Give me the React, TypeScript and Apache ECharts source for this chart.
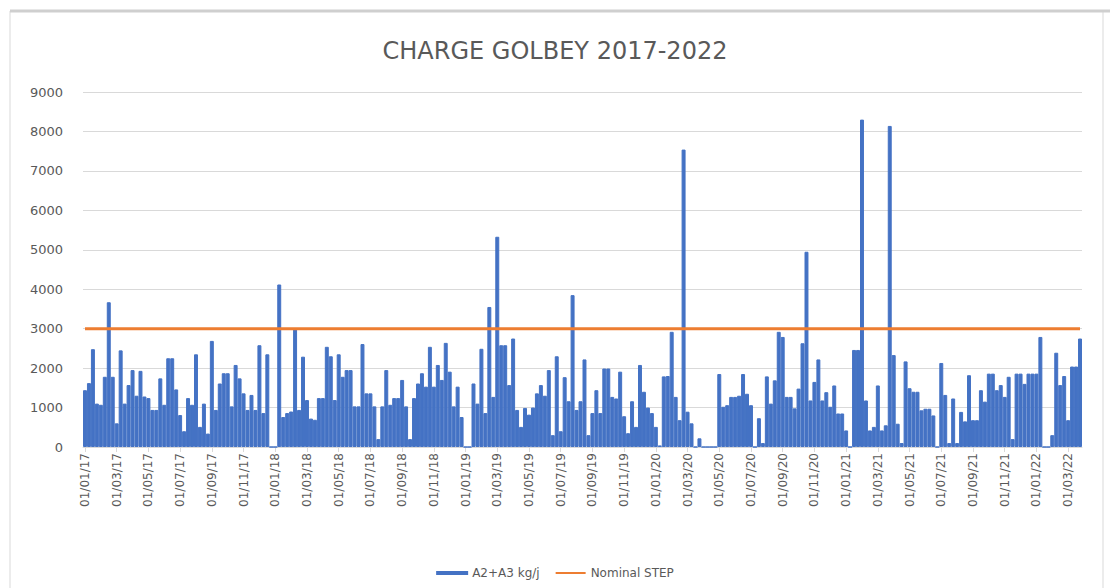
import React, { useEffect, useRef } from "react";
import * as echarts from "echarts";

// Sampling slots: four per month (days 1, 8, 16, 23), Jan 2017 → Mar 2022
const SLOT_DAYS = [1, 8, 16, 23];
const START_YEAR = 2017;
const END_YEAR = 2022;
const END_MONTH = 3;

const pad = (n: number) => String(n).padStart(2, "0");
const categories: string[] = [];
for (let y = START_YEAR; y <= END_YEAR; y++) {
  for (let m = 1; m <= 12; m++) {
    if (y === END_YEAR && m > END_MONTH) break;
    for (const d of SLOT_DAYS) categories.push(`${pad(d)}/${pad(m)}/${String(y).slice(2)}`);
  }
}

// Axis labels every two months
const tickLabels = [
  "01/01/17", "01/03/17", "01/05/17", "01/07/17", "01/09/17", "01/11/17",
  "01/01/18", "01/03/18", "01/05/18", "01/07/18", "01/09/18", "01/11/18",
  "01/01/19", "01/03/19", "01/05/19", "01/07/19", "01/09/19", "01/11/19",
  "01/01/20", "01/03/20", "01/05/20", "01/07/20", "01/09/20", "01/11/20",
  "01/01/21", "01/03/21", "01/05/21", "01/07/21", "01/09/21", "01/11/21",
  "01/01/22", "01/03/22",
];

// A2+A3 load (kg/j)
const load2017 = [
  1440, 1620, 2480, 1100, 1070, 1780, 3670, 1780, 600, 2450,
  1100, 1570, 1950, 1300, 1930, 1280, 1240, 940, 940, 1740,
  1070, 2250, 2250, 1460, 810, 400, 1240, 1070, 2350, 510,
  1100, 340, 2690, 940, 1610, 1870, 1870, 1030, 2080, 1740,
  1360, 940, 1320, 940, 2580, 860, 2350, 0, 0,
];
const load2018 = [
  4120,
  760, 860, 900, 3000, 940, 2290, 1190, 720, 690, 1240,
  1240, 2540, 2300, 1190, 2350, 1780, 1950, 1950, 1030, 1030,
  2610, 1360, 1360, 1030, 200, 1030, 1950, 1070, 1240, 1240,
  1700, 1030, 200, 1240, 1610, 1870, 1530, 2540, 1530, 2080,
  1700, 2640, 1910, 1030, 1530, 760, 0,
];
const load2019 = [
  0, 1610, 1100, 2490,
  860, 3550, 1270, 5330, 2580, 2580, 1570, 2750, 940, 510,
  990, 820, 1000, 1360, 1570, 1300, 1950, 300, 2300, 400,
  1770, 1160, 3850, 940, 1160, 2220, 300, 860, 1440, 860,
  1990, 1990, 1270, 1230, 1910, 780, 350, 1160, 510, 2080,
  1400, 1000,
];
const load2020 = [
  860, 510, 40, 1790, 1800, 2920, 1270, 680,
  7540, 895, 600, 0, 220, 0, 0, 0, 0, 1850,
  1020, 1060, 1270, 1270, 1300, 1850, 1350, 1060, 0, 730,
  100, 1790, 1100, 1690, 2920, 2790, 1270, 1270, 980, 1480,
  2630, 4950, 1180, 1650, 2220, 1180, 1390, 1020, 1560, 850,
  850, 420,
];
const load2021 = [
  0, 2460, 2460, 8300, 1180, 420, 510, 1560,
  420,
  550, 8140, 2330, 590, 100, 2170, 1490, 1400, 1400, 930,
  970, 970, 800, 0, 2130, 1320, 100, 1230, 100, 890,
  650, 1820, 680, 680, 1440, 1150, 1860, 1860, 1440, 1570,
  1270, 1780, 200, 1860, 1860, 1600, 1860, 1860, 1860, 2790,
];
const load2022 = [0, 0, 300, 2390, 1570, 1800, 680, 2040, 2040, 2750];

const loadValues = [...load2017, ...load2018, ...load2019, ...load2020, ...load2021, ...load2022];

const NOMINAL_STEP = 3000;
const nominalValues = categories.map(() => NOMINAL_STEP);

const FONT = "DejaVu Sans";
const TEXT = "#595959";
const GRID = "#d9d9d9";

export default function App() {
  const ref = useRef<HTMLDivElement>(null);

  useEffect(() => {
    if (!ref.current) return;
    const chart = echarts.init(ref.current, undefined, { renderer: "svg" });
    const labelSet = new Set(tickLabels);
    const showAt = (_i: number, v: string) => labelSet.has(v);

    chart.setOption({
      animation: false,
      backgroundColor: "#ffffff",
      textStyle: { fontFamily: FONT },
      title: {
        text: "CHARGE GOLBEY 2017-2022",
        left: "center",
        top: 34,
        textStyle: { color: TEXT, fontSize: 24, fontWeight: "normal", fontFamily: FONT },
      },
      graphic: [
        {
          type: "rect",
          shape: { x: 10, y: 11, width: 1093, height: 590 },
          style: { fill: "none", stroke: GRID, lineWidth: 1 },
          silent: true,
        },
        {
          type: "line",
          shape: { x1: 10, y1: 11, x2: 1110, y2: 11 },
          style: { stroke: "#cfcfcf", lineWidth: 3 },
          silent: true,
        },
      ],
      legend: {
        bottom: 4,
        left: "center",
        itemWidth: 30,
        itemHeight: 2,
        itemGap: 16,
        textStyle: { color: TEXT, fontSize: 12, fontFamily: FONT },
        data: [
          { name: "A2+A3 kg/j", icon: "rect" },
          { name: "Nominal STEP", icon: "rect" },
        ],
      },
      grid: { left: 83, right: 28, top: 92, bottom: 141, containLabel: false },
      xAxis: {
        type: "category",
        data: categories,
        boundaryGap: true,
        axisLine: { lineStyle: { color: GRID } },
        axisTick: { show: true, interval: showAt, alignWithLabel: true, length: 5, lineStyle: { color: GRID } },
        axisLabel: {
          interval: showAt,
          rotate: 90,
          margin: 6,
          color: TEXT,
          fontSize: 12,
          fontFamily: FONT,
        },
        splitLine: { show: false },
      },
      yAxis: {
        type: "value",
        min: 0,
        max: 9000,
        interval: 1000,
        axisLine: { show: false },
        axisTick: { show: false },
        axisLabel: {
          color: TEXT,
          fontSize: 13,
          margin: 20,
          fontFamily: FONT,
          formatter: (v: number) => String(v),
        },
        splitLine: { lineStyle: { color: GRID, width: 1 } },
      },
      series: [
        {
          name: "A2+A3 kg/j",
          type: "bar",
          data: loadValues,
          barCategoryGap: "0%",
          barGap: "0%",
          itemStyle: { color: "#4472C4", borderColor: "#4472C4", borderWidth: 1 },
          z: 2,
        },
        {
          name: "Nominal STEP",
          type: "line",
          data: nominalValues,
          symbol: "none",
          lineStyle: { color: "#ED7D31", width: 3 },
          itemStyle: { color: "#ED7D31" },
          z: 3,
        },
      ],
    });

    return () => chart.dispose();
  }, []);

  return (
    <div
      ref={ref}
      style={{ position: "fixed", left: 0, top: 0, width: 1110, height: 588 }}
    />
  );
}
